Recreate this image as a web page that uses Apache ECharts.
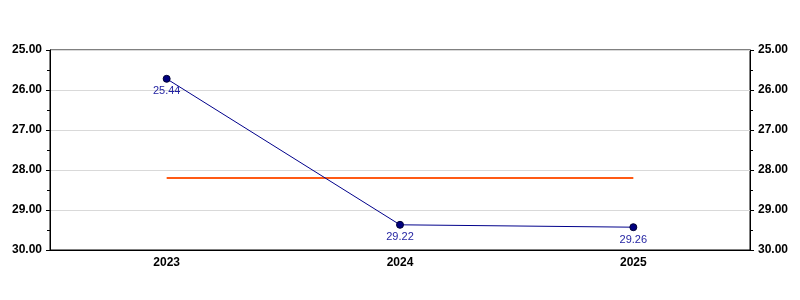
<!DOCTYPE html>
<html><head><meta charset="utf-8">
<script src="https://cdn.jsdelivr.net/npm/echarts@6/dist/echarts.min.js"></script>
<style>html,body{margin:0;padding:0;background:#fff}#c{width:800px;height:300px}</style>
</head><body><div id="c"></div>
<script>
const categories = ['2023', '2024', '2025'];
const values = [25.72, 29.37, 29.43];
const valueLabels = ['25.44', '29.22', '29.26'];
const reference = [28.2, 28.2, 28.2];
const yMin = 25, yMax = 30, yStep = 1;

const chart = echarts.init(document.getElementById('c'), null, {renderer: 'canvas'});
const font = 'Liberation Sans, Arial, sans-serif';
function yAxis(pos, grid) {
  return {
    type: 'value', position: pos, inverse: true, min: yMin, max: yMax, interval: yStep,
    axisLine: {show: true, lineStyle: {color: '#000', width: 1}},
    axisTick: {show: true, length: 4, lineStyle: {color: '#000'}},
    minorTick: {show: true, splitNumber: 2, length: 3, lineStyle: {color: '#000'}},
    axisLabel: {color: '#000', fontFamily: font, fontSize: 12, fontWeight: 'bold', margin: 8,
      formatter: v => v.toFixed(2)},
    splitLine: {show: grid, lineStyle: {color: '#d9d9d9', width: 1}}
  };
}
chart.setOption({
  animation: false,
  grid: {left: 50, right: 50, top: 50, bottom: 50, show: true, borderColor: '#000', borderWidth: 1},
  xAxis: {
    type: 'category', data: categories, boundaryGap: true,
    axisLine: {lineStyle: {color: '#000'}},
    axisTick: {alignWithLabel: true, length: 4, lineStyle: {color: '#000'}},
    axisLabel: {color: '#000', fontFamily: font, fontSize: 12, fontWeight: 'bold', margin: 7}
  },
  yAxis: [yAxis('left', true), yAxis('right', false)],
  series: [
    {
      type: 'line', data: reference, yAxisIndex: 0, symbol: 'none',
      lineStyle: {color: '#ff5a14', width: 2}, z: 2
    },
    {
      type: 'line', data: values, yAxisIndex: 0,
      symbol: 'circle', symbolSize: 7,
      itemStyle: {color: '#000080', borderColor: '#000033', borderWidth: 1},
      lineStyle: {color: '#00008b', width: 1},
      label: {show: true, position: 'bottom', distance: 3, color: '#1f1fa0',
        fontFamily: font, fontSize: 11,
        formatter: p => valueLabels[p.dataIndex]},
      z: 3
    }
  ]
});
</script></body></html>
